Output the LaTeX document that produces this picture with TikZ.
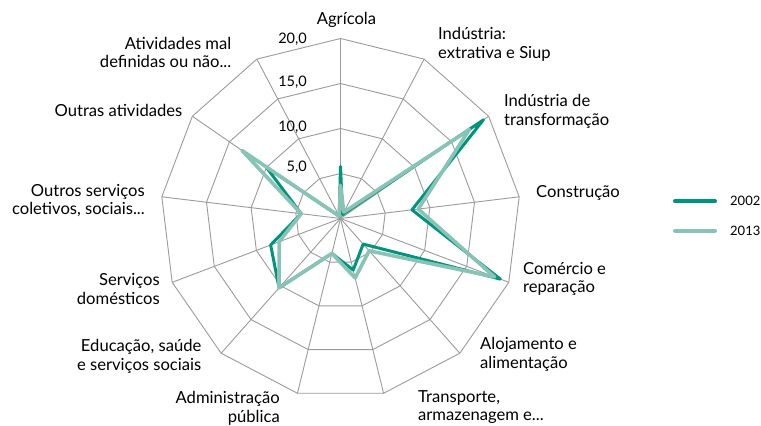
\documentclass[tikz,border=0pt]{standalone}
\usepackage{fontspec}
\setmainfont{Lato}
\definecolor{verdeescuro}{HTML}{00937E}
\definecolor{verdeclaro}{HTML}{87C4B6}
\definecolor{grade}{HTML}{9A9A9A}
\begin{document}
\begin{tikzpicture}[x=1pt,y=1pt,
    rotulo/.style={font=\fontsize{16.6}{18.8}\selectfont, inner sep=0pt, text=black},
    escala/.style={rotulo, font=\fontsize{14.5}{17}\selectfont, anchor=east},
    serieA/.style={verdeescuro, line width=3, line join=round},
    serieB/.style={verdeclaro, line width=3.6, line join=round}]
    \useasboundingbox (0,0) rectangle (761,426);
    \coordinate (c) at (340.5,207.5);

    % Grade
    \begin{scope}[shift={(c)}]
    \foreach \r in {45,90,135,180}
        \draw[grade, line width=0.9] (90:\r) \foreach \k in {1,...,12} { -- ({90-\k*360/13}:\r) } -- cycle;
    \foreach \k in {0,...,12}
        \draw[grade, line width=0.9] (0,0) -- ({90-\k*360/13}:180);

    % Series 2002 y 2013
    \draw[serieA] (90:5.8*9) \foreach \v [count=\k] in {0.5,19.3,8.0,19.0,3.8,5.9,4.0,10.3,8.3,4.4,10.0,0.3} { -- ({90-\k*360/13}:\v*9) } -- cycle;
    \draw[serieB] (90:3.7*9) \foreach \v [count=\k] in {0.8,17.4,8.7,18.3,4.8,6.8,4.0,10.3,7.3,4.4,13.3,0.3} { -- ({90-\k*360/13}:\v*9) } -- cycle;
    \end{scope}

    % Escala
    \node[escala] (e20) at (307,387) {20,0};
    \node[escala] (e15) at (307,344) {15,0};
    \node[escala] (e10) at (307,299) {10,0};
    \node[escala] (e5) at (307,259) {5,0};

    % Rotulos
    \node[rotulo] (agricola) at (346.5,406) {Agrícola};
    \node[rotulo, anchor=west, align=left] (extrativa) at (438,382) {Indústria:\\extrativa e Siup};
    \node[rotulo, anchor=west, align=left] (transformacao) at (504,315) {Indústria de\\transformação};
    \node[rotulo, anchor=west] (construcao) at (536,233) {Construção};
    \node[rotulo, anchor=west, align=left] (comercio) at (523,147) {Comércio e\\reparação};
    \node[rotulo, anchor=west, align=left] (alojamento) at (480,72) {Alojamento e\\alimentação};
    \node[rotulo, anchor=west, align=left] (transporte) at (418,19) {Transporte,\\armazenagem e...};
    \node[rotulo, anchor=east, align=right] (administracao) at (280,18) {Administração\\pública};
    \node[rotulo, anchor=east, align=right] (educacao) at (201.5,70) {Educação, saúde\\e serviços sociais};
    \node[rotulo, anchor=east, align=right] (domesticos) at (160,137) {Serviços\\domésticos};
    \node[rotulo, anchor=east, align=right] (outrosservicos) at (145,225.5) {Outros serviços\\coletivos, sociais...};
    \node[rotulo, anchor=east] (outras) at (182.5,315.5) {Outras atividades};
    \node[rotulo, anchor=east, align=right] (maldefinidas) at (231.5,373.5) {Atividades mal\\definidas ou não...};

    % Legenda
    \coordinate (a1) at (675,224.7);
    \coordinate (a2) at (715,224.7);
    \coordinate (b1) at (675,195.3);
    \coordinate (b2) at (715,195.3);
    \draw[serieA, line width=4, line cap=round] (a1) -- (a2);
    \draw[serieB, line width=4, line cap=round] (b1) -- (b2);
    \node[rotulo, font=\fontsize{13}{15}\selectfont, anchor=west] (l2002) at (730,224.7) {2002};
    \node[rotulo, font=\fontsize{13}{15}\selectfont, anchor=west] (l2013) at (730,195.3) {2013};
\end{tikzpicture}
\end{document}
